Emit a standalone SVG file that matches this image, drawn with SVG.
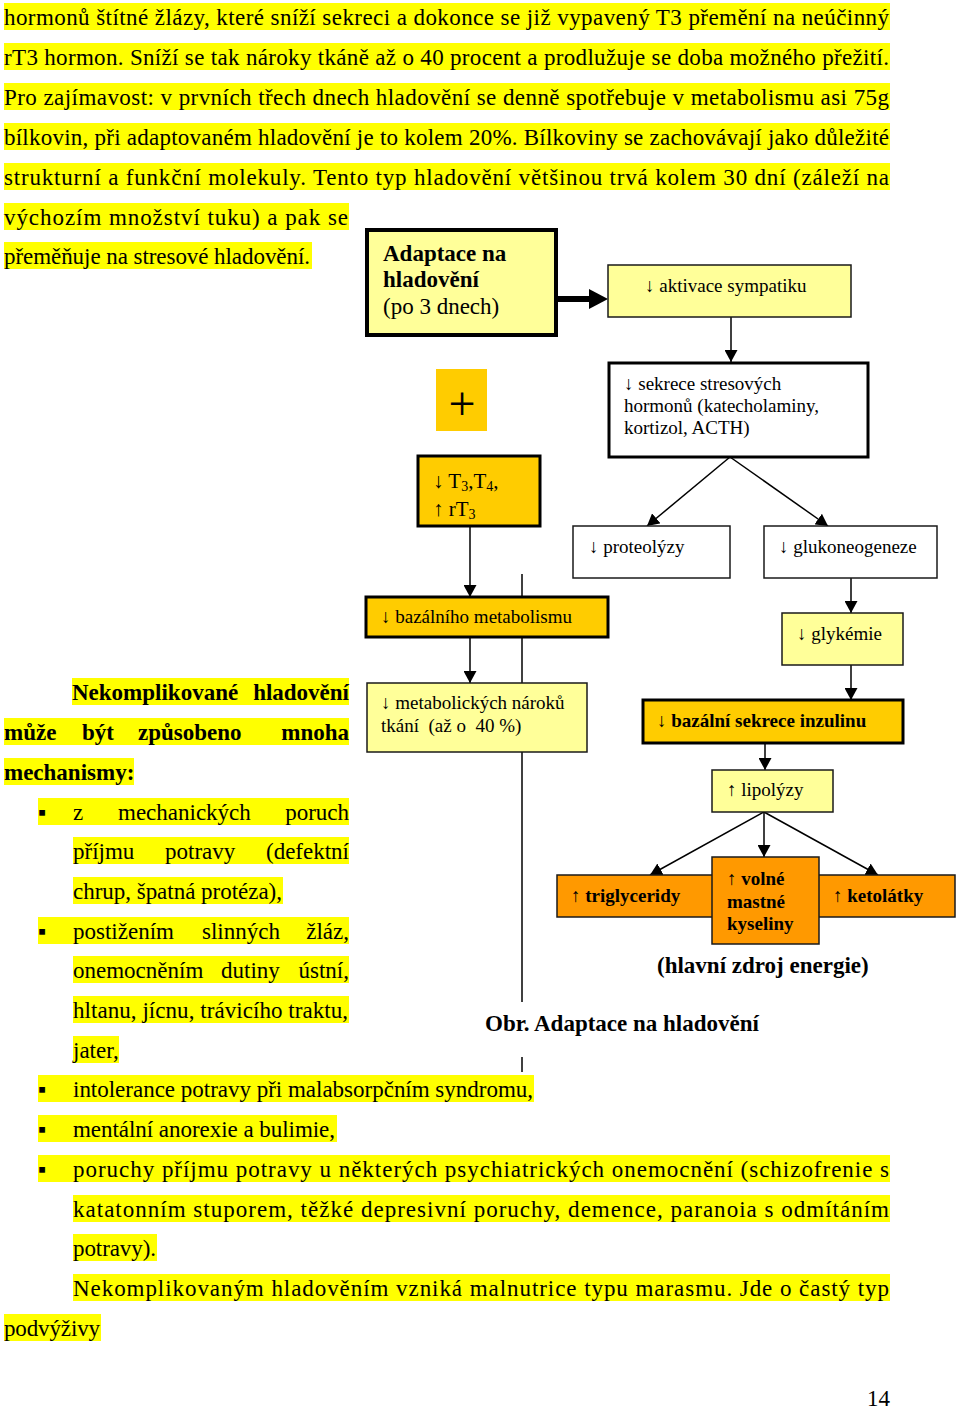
<svg xmlns="http://www.w3.org/2000/svg" width="960" height="1413" viewBox="0 0 960 1413">
<style>
.t{font-family:"Liberation Serif","Times New Roman",serif;font-size:23px;fill:#000}
.b{font-weight:bold}
.hl{fill:#ffff00}
.d{font-family:"Liberation Serif","Times New Roman",serif;font-size:19px;fill:#000}
.ly{fill:#ffff99}
.gd{fill:#ffcc00}
.or{fill:#ff9900}
.wh{fill:#ffffff}
.thin{stroke:#1a1a1a;stroke-width:1.5}
.thick{stroke:#000;stroke-width:3}
.c{stroke:#000;stroke-width:1.5;fill:none}
.cm{stroke:#000;stroke-width:1.5;fill:none;marker-end:url(#ah)}
</style>
<defs>
<marker id="ah" markerUnits="userSpaceOnUse" markerWidth="13" markerHeight="13" refX="12" refY="6.5" orient="auto"><path d="M0,0 L12,6.5 L0,13 z" fill="#000"/></marker>
</defs>

<g id="paragraph-top">
<rect class="hl" x="4" y="3" width="886" height="27"/>
<rect class="hl" x="4" y="43" width="886" height="27"/>
<rect class="hl" x="4" y="83" width="886" height="27"/>
<rect class="hl" x="4" y="123" width="886" height="27"/>
<rect class="hl" x="4" y="163" width="886" height="27"/>
<rect class="hl" x="4" y="203" width="345" height="27"/>
<rect class="hl" x="4" y="242" width="308" height="27"/>
<text class="t" x="4" y="25" textLength="885" lengthAdjust="spacing">hormonů štítné žlázy, které sníží sekreci a dokonce se již vypavený T3 přemění na neúčinný</text>
<text class="t" x="4" y="65" textLength="885" lengthAdjust="spacing">rT3 hormon. Sníží se tak nároky tkáně až o 40 procent a prodlužuje se doba možného přežití.</text>
<text class="t" x="4" y="105" textLength="885" lengthAdjust="spacing">Pro zajímavost: v prvních třech dnech hladovění se denně spotřebuje v metabolismu asi 75g</text>
<text class="t" x="4" y="145" textLength="885" lengthAdjust="spacing">bílkovin, při adaptovaném hladovění je to kolem 20%. Bílkoviny se zachovávají jako důležité</text>
<text class="t" x="4" y="185" textLength="885" lengthAdjust="spacing">strukturní a funkční molekuly. Tento typ hladovění většinou trvá kolem 30 dní (záleží na</text>
<text class="t" x="4" y="225" textLength="344" lengthAdjust="spacing">výchozím množství tuku) a pak se</text>
<text class="t" x="4" y="264" textLength="306" lengthAdjust="spacing">přeměňuje na stresové hladovění.</text>
</g>

<g id="paragraph-left">
<rect class="hl" x="72" y="678" width="277" height="27"/>
<rect class="hl" x="4" y="718" width="345" height="27"/>
<rect class="hl" x="4" y="758" width="130" height="27"/>
<rect class="hl" x="38" y="798" width="311" height="27"/>
<rect class="hl" x="73" y="837" width="276" height="27"/>
<rect class="hl" x="73" y="877" width="210" height="27"/>
<rect class="hl" x="38" y="917" width="311" height="27"/>
<rect class="hl" x="73" y="956" width="276" height="27"/>
<rect class="hl" x="73" y="996" width="276" height="27"/>
<rect class="hl" x="73" y="1036" width="46" height="27"/>
<rect class="hl" x="38" y="1075" width="496" height="27"/>
<rect class="hl" x="38" y="1115" width="299" height="27"/>
<rect class="hl" x="38" y="1155" width="852" height="27"/>
<rect class="hl" x="73" y="1195" width="817" height="27"/>
<rect class="hl" x="73" y="1234" width="84" height="27"/>
<rect class="hl" x="73" y="1274" width="817" height="27"/>
<rect class="hl" x="4" y="1314" width="97" height="27"/>

<text class="t b" y="700"><tspan x="72">Nekomplikované</tspan><tspan x="349" text-anchor="end">hladovění</tspan></text>
<text class="t b" y="740"><tspan x="4">může</tspan><tspan x="82">být</tspan><tspan x="138">způsobeno</tspan><tspan x="349" text-anchor="end">mnoha</tspan></text>
<text class="t b" x="4" y="780">mechanismy:</text>

<text class="t" x="38" y="820">▪</text>
<text class="t" y="820"><tspan x="73">z</tspan><tspan x="118">mechanických</tspan><tspan x="349" text-anchor="end">poruch</tspan></text>
<text class="t" y="859"><tspan x="73">příjmu</tspan><tspan x="165">potravy</tspan><tspan x="349" text-anchor="end">(defektní</tspan></text>
<text class="t" x="73" y="899" textLength="209" lengthAdjust="spacing">chrup, špatná protéza),</text>
<text class="t" x="38" y="939">▪</text>
<text class="t" y="939"><tspan x="73">postižením</tspan><tspan x="202">slinných</tspan><tspan x="349" text-anchor="end">žláz,</tspan></text>
<text class="t" y="978"><tspan x="73">onemocněním</tspan><tspan x="221">dutiny</tspan><tspan x="349" text-anchor="end">ústní,</tspan></text>
<text class="t" x="73" y="1018" textLength="275" lengthAdjust="spacing">hltanu, jícnu, trávicího traktu,</text>
<text class="t" x="73" y="1058">jater,</text>
<text class="t" x="38" y="1097">▪</text>
<text class="t" x="73" y="1097" textLength="460" lengthAdjust="spacing">intolerance potravy při malabsorpčním syndromu,</text>
<text class="t" x="38" y="1137">▪</text>
<text class="t" x="73" y="1137" textLength="262" lengthAdjust="spacing">mentální anorexie a bulimie,</text>
<text class="t" x="38" y="1177">▪</text>
<text class="t" x="73" y="1177" textLength="816" lengthAdjust="spacing">poruchy příjmu potravy u některých psychiatrických onemocnění (schizofrenie s</text>
<text class="t" x="73" y="1217" textLength="816" lengthAdjust="spacing">katatonním stuporem, těžké depresivní poruchy, demence, paranoia s odmítáním</text>
<text class="t" x="73" y="1256" textLength="83" lengthAdjust="spacing">potravy).</text>
<text class="t" x="73" y="1296" textLength="816" lengthAdjust="spacing">Nekomplikovaným hladověním vzniká malnutrice typu marasmu. Jde o častý typ</text>
<text class="t" x="4" y="1336" textLength="96" lengthAdjust="spacing">podvýživy</text>
<text class="t" x="890" y="1406" text-anchor="end">14</text>
</g>

<g id="connectors">
<line x1="558" y1="299" x2="592" y2="299" stroke="#000" stroke-width="6"/>
<polygon points="589,289 608,299 589,309" fill="#000"/>
<line class="cm" x1="731" y1="317" x2="731" y2="362"/>
<line class="cm" x1="730" y1="457" x2="647" y2="526"/>
<line class="cm" x1="730" y1="457" x2="828" y2="526"/>
<line class="cm" x1="851" y1="578" x2="851" y2="613"/>
<line class="cm" x1="851" y1="665" x2="851" y2="700"/>
<line class="cm" x1="765" y1="743" x2="765" y2="770"/>
<line class="cm" x1="764" y1="812" x2="650" y2="875"/>
<line class="cm" x1="764" y1="812" x2="764" y2="857"/>
<line class="cm" x1="764" y1="812" x2="878" y2="875"/>
<line class="cm" x1="470" y1="526" x2="470" y2="597"/>
<line class="cm" x1="470" y1="637" x2="470" y2="683"/>
<line class="c" x1="522" y1="574" x2="522" y2="597"/>
<line class="c" x1="522" y1="637" x2="522" y2="683"/>
<line class="c" x1="522" y1="752" x2="522" y2="1002"/>
<line class="c" x1="522" y1="1057" x2="522" y2="1072"/>
</g>

<g id="node-adaptace">
<rect class="ly" x="367" y="230" width="189" height="105" stroke="#000" stroke-width="4"/>
<text class="t b" x="383" y="261">Adaptace na</text>
<text class="t b" x="383" y="287">hladovění</text>
<text class="t" x="383" y="314">(po 3 dnech)</text>
</g>

<g id="node-aktivace">
<rect class="ly thin" x="608" y="265" width="243" height="52"/>
<text class="d" x="645" y="292">↓ aktivace sympatiku</text>
</g>

<g id="node-sekrece">
<rect class="wh thick" x="609" y="363" width="259" height="94"/>
<text class="d" x="624" y="390">↓ sekrece stresových</text>
<text class="d" x="624" y="412">hormonů (katecholaminy,</text>
<text class="d" x="624" y="434">kortizol, ACTH)</text>
</g>

<g id="node-plus">
<rect class="gd" x="436" y="369" width="51" height="62"/>
<text class="t" x="462" y="420" text-anchor="middle" style="font-size:48px">+</text>
</g>

<g id="node-t3t4">
<rect class="gd thick" x="418" y="456" width="122" height="70"/>
<text class="d" x="433" y="488" style="font-size:21px">↓ T<tspan style="font-size:14px" dy="3">3</tspan><tspan dy="-3">,T</tspan><tspan style="font-size:14px" dy="3">4</tspan><tspan dy="-3">,</tspan></text>
<text class="d" x="433" y="516" style="font-size:21px">↑ rT<tspan style="font-size:14px" dy="3">3</tspan></text>
</g>

<g id="node-proteolyzy">
<rect class="wh thin" x="573" y="526" width="157" height="52"/>
<text class="d" x="589" y="553">↓ proteolýzy</text>
</g>

<g id="node-glukoneogeneze">
<rect class="wh thin" x="764" y="526" width="173" height="52"/>
<text class="d" x="779" y="553">↓ glukoneogeneze</text>
</g>

<g id="node-bazalniho">
<rect class="gd thick" x="366" y="597" width="242" height="40"/>
<text class="d" x="381" y="623">↓ bazálního metabolismu</text>
</g>

<g id="node-glykemie">
<rect class="ly thin" x="782" y="613" width="121" height="52"/>
<text class="d" x="797" y="640">↓ glykémie</text>
</g>

<g id="node-metabolickych">
<rect class="ly thin" x="367" y="683" width="220" height="69"/>
<text class="d" x="381" y="709">↓ metabolických nároků</text>
<text class="d" x="381" y="732" xml:space="preserve">tkání  (až o  40 %)</text>
</g>

<g id="node-inzulin">
<rect class="gd thick" x="643" y="700" width="260" height="43"/>
<text class="d b" x="657" y="727">↓ bazální sekrece inzulinu</text>
</g>

<g id="node-lipolyzy">
<rect class="ly thin" x="712" y="770" width="121" height="42"/>
<text class="d" x="727" y="796">↑ lipolýzy</text>
</g>

<g id="node-triglyceridy">
<rect class="or thin" x="557" y="875" width="170" height="42"/>
<text class="d b" x="571" y="902">↑ triglyceridy</text>
</g>

<g id="node-ketolatky">
<rect class="or thin" x="805" y="875" width="150" height="42"/>
<text class="d b" x="833" y="902">↑ ketolátky</text>
</g>

<g id="node-mastne">
<rect class="or thin" x="712" y="857" width="107" height="87"/>
<text class="d b" x="727" y="885">↑ volné</text>
<text class="d b" x="727" y="908">mastné</text>
<text class="d b" x="727" y="930">kyseliny</text>
</g>

<g id="labels">
<text class="t b" x="657" y="973">(hlavní zdroj energie)</text>
<text class="t b" x="485" y="1031">Obr. Adaptace na hladovění</text>
</g>
</svg>
